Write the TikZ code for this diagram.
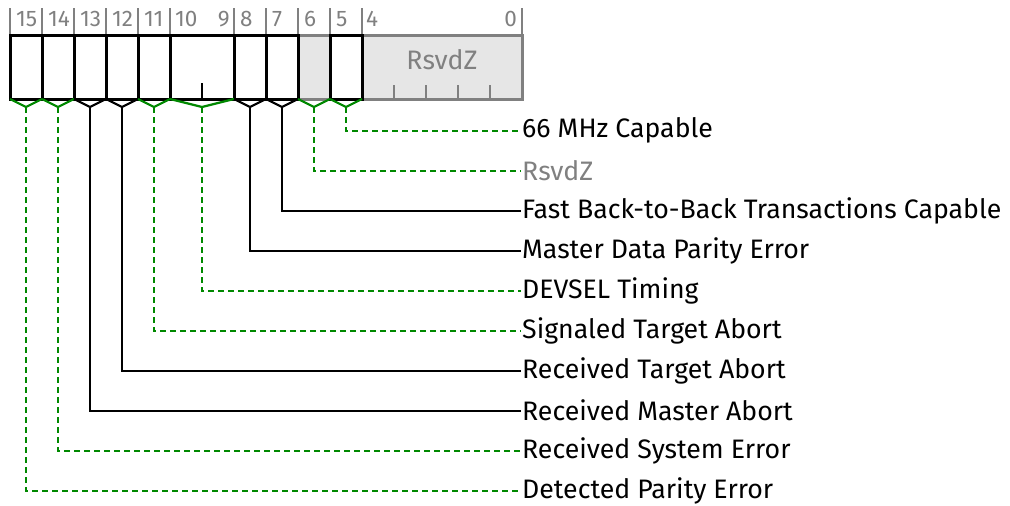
\documentclass[tikz,border=0pt]{standalone}
\usepackage{fontspec}
\setmainfont{Fira Sans}
\definecolor{grn}{RGB}{0,136,0}
\definecolor{rsv}{RGB}{128,128,128}
\definecolor{rsvfill}{RGB}{230,230,230}
\tikzset{
  field/.style={draw=black, line width=3pt, outer sep=0pt, inner sep=0pt, minimum height=64pt, anchor=north west},
  rfield/.style={field, draw=rsv, fill=rsvfill},
  tickln/.style={draw=rsv, line width=2pt},
  bitnum/.style={text=rsv, font=\fontsize{22.5}{22.5}\selectfont, inner sep=0pt, anchor=base west},
  lbl/.style={font=\fontsize{26.7}{26.7}\selectfont, inner sep=1pt, anchor=west},
  solidc/.style={draw=black, line width=2pt},
  dashc/.style={draw=grn, line width=2pt, dash pattern=on 6pt off 4pt},
  vsolid/.style={draw=black, line width=2.2pt},
  vdash/.style={draw=grn, line width=2.2pt},
}
\begin{document}
\begin{tikzpicture}[x=1pt,y=-1pt]
\useasboundingbox (0,0) rectangle (1010,506);
% bit ticks
\foreach \x in {10,42,74,106,138,170,234,266,298,330,362,522}
  \draw[tickln] (\x,8) -- (\x,35);
% bit numbers
\node[bitnum] (n15) at (16,26) {15};
\node[bitnum] (n14) at (48,26) {14};
\node[bitnum] (n13) at (80,26) {13};
\node[bitnum] (n12) at (112,26) {12};
\node[bitnum] (n11) at (144,26) {11};
\node[bitnum] (n10) at (175,26) {10};
\node[bitnum, anchor=base east] (n9) at (230,26) {9};
\node[bitnum] (n8) at (240,26) {8};
\node[bitnum] (n7) at (272,26) {7};
\node[bitnum] (n6) at (304,26) {6};
\node[bitnum] (n5) at (336,26) {5};
\node[bitnum] (n4) at (366,26) {4};
\node[bitnum, anchor=base east] (n0) at (517,26) {0};
% gray fields
\node[rfield, minimum width=32pt] (b6) at (298,35) {};
\node[rfield, minimum width=160pt] (b4) at (362,35) {};
\node[text=rsv, font=\fontsize{26.7}{26.7}\selectfont, inner sep=0pt] (rz) at (442,60) {RsvdZ};
\foreach \x in {394,426,458,490}
  \draw[tickln] (\x,85) -- (\x,99);
% black fields
\node[field, minimum width=32pt] (b15) at (10,35) {};
\node[field, minimum width=32pt] (b14) at (42,35) {};
\node[field, minimum width=32pt] (b13) at (74,35) {};
\node[field, minimum width=32pt] (b12) at (106,35) {};
\node[field, minimum width=32pt] (b11) at (138,35) {};
\node[field, minimum width=64pt] (b10) at (170,35) {};
\node[field, minimum width=32pt] (b8) at (234,35) {};
\node[field, minimum width=32pt] (b7) at (266,35) {};
\node[field, minimum width=32pt] (b5) at (330,35) {};
\draw[vsolid] (b10.south) -- ++(0,-16);
% labels
\node[lbl] (l5) at (521,130.7) {66 MHz Capable};
\node[lbl, text=rsv] (l6) at (521,170.7) {RsvdZ};
\node[lbl] (l7) at (521,210.7) {Fast Back-to-Back Transactions Capable};
\node[lbl] (l8) at (521,250.7) {Master Data Parity Error};
\node[lbl] (l10) at (521,290.7) {DEVSEL Timing};
\node[lbl] (l11) at (521,330.7) {Signaled Target Abort};
\node[lbl] (l12) at (521,370.7) {Received Target Abort};
\node[lbl] (l13) at (521,410.7) {Received Master Abort};
\node[lbl] (l14) at (521,450.7) {Received System Error};
\node[lbl] (l15) at (521,490.7) {Detected Parity Error};
% V shapes and connectors
\foreach \b/\c/\vs/\cs in {15/26/vdash/dashc,14/58/vdash/dashc,13/90/vsolid/solidc,12/122/vsolid/solidc,11/154/vdash/dashc,10/202/vdash/dashc,8/250/vsolid/solidc,7/282/vsolid/solidc,6/314/vdash/dashc,5/346/vdash/dashc}{
  \coordinate (v\b) at (\c,107);
  \draw[\vs, line join=miter] (b\b.south west) -- (v\b) -- (b\b.south east);
  \draw[\cs] (v\b) |- (l\b.west);
}
\end{tikzpicture}
\end{document}
